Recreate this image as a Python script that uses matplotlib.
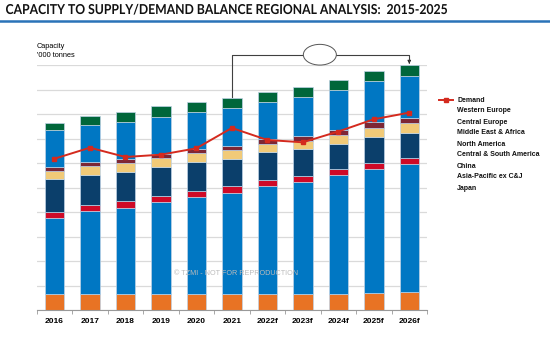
import numpy as np
import matplotlib.pyplot as plt
from matplotlib.patches import Ellipse, PathPatch
from matplotlib.textpath import TextPath
from matplotlib.font_manager import FontProperties
from matplotlib.transforms import Affine2D, IdentityTransform

years = ['2016', '2017', '2018', '2019', '2020', '2021',
         '2022f', '2023f', '2024f', '2025f', '2026f']

# capacity by region, '000 tonnes (stacked bottom -> top)
japan = [640, 640, 640, 640, 640, 640, 640, 640, 640, 680, 735]
asia_pac = [3100, 3400, 3520, 3755, 3970, 4150, 4420, 4570, 4855, 5075, 5210]
china = [270, 255, 275, 270, 245, 275, 255, 245, 245, 245, 245]
cs_america = [1320, 1225, 1195, 1185, 1195, 1115, 1130, 1115, 1035, 1060, 1045]
n_america = [340, 355, 355, 355, 345, 355, 340, 340, 365, 365, 395]
mea = [150, 165, 165, 150, 165, 165, 180, 205, 205, 235, 190]
c_europe = [1510, 1510, 1510, 1510, 1510, 1540, 1510, 1580, 1635, 1675, 1740]
w_europe = [285, 365, 410, 450, 420, 410, 435, 410, 410, 410, 425]

demand = [6175, 6625, 6245, 6340, 6600, 7430, 6940, 6845, 7285, 7785, 8055]

series = [
    ('Japan', japan, '#E87324'),
    ('Asia-Pacific ex C&J', asia_pac, '#0077C3'),
    ('China', china, '#CF0A27'),
    ('Central & South America', cs_america, '#0B3F6B'),
    ('North America', n_america, '#F1CA78'),
    ('Middle East & Africa', mea, '#7D2735'),
    ('Central Europe', c_europe, '#0077C3'),
    ('Western Europe', w_europe, '#00663A'),
]

fig = plt.figure(figsize=(5.5, 3.4), dpi=100)
fig.patch.set_facecolor('white')

# title as a condensed text path: 441px wide, 10px cap height, baseline 14px from top
title = 'CAPACITY TO SUPPLY/DEMAND BALANCE REGIONAL ANALYSIS:  2015-2025'
fp = FontProperties(family='Lato', weight='bold')
tp = TextPath((0, 0), title, size=10, prop=fp)
cap = TextPath((0, 0), 'CAPACITY', size=10, prop=fp).get_extents()
ext = tp.get_extents()
sx = 441 / ext.width
sy = 10 / cap.y1
tr = Affine2D().translate(-ext.x0, 0).scale(sx, sy).translate(6, 340 - 14)
fig.add_artist(PathPatch(tr.transform_path(tp), transform=IdentityTransform(),
                         facecolor='#111111', edgecolor='none'))
fig.add_artist(plt.Line2D([0, 1], [0.938, 0.938], color='#2A73B8', lw=1.8))

ax = fig.add_axes([36.7 / 550, 30 / 340, 390.3 / 550, 245 / 340])
x = np.arange(len(years))
bottom = np.zeros(len(years))
for name, vals, col in series:
    ax.bar(x, vals, 0.55, bottom=bottom, color=col, edgecolor='#BFD3E6',
           linewidth=0.5, zorder=2)
    bottom += np.array(vals)

ax.plot(x, demand, color='#D42A1E', lw=1.4, marker='s', markersize=3.2, zorder=3)

ax.set_xlim(-0.5, len(years) - 0.5)
ax.set_ylim(0, 10000)
ax.set_yticks(np.arange(0, 10001, 1000))
ax.yaxis.grid(True, color='#DADADA', lw=0.9, zorder=0)
ax.tick_params(axis='y', left=False, labelleft=False)
ax.set_xticks(x)
ax.set_xticklabels(years, fontsize=6, fontweight='bold', family='Liberation Sans')
ax.set_xticks(np.arange(-0.5, len(years)), minor=True)
ax.tick_params(axis='x', which='major', length=0, pad=6)
ax.tick_params(axis='x', which='minor', length=3, color='#999999')
for s in ['left', 'right', 'top']:
    ax.spines[s].set_visible(False)
ax.spines['bottom'].set_color('#999999')
ax.set_axisbelow(True)

fig.text(37 / 550, 1 - 51 / 340, "Capacity\n'000 tonnes", fontsize=5.3,
         family='Liberation Sans', va='center', ha='left', linespacing=1.3)

# watermark
ax.text(0.51, 0.147, '\u00a9 TZMI - NOT FOR REPRODUCTION', transform=ax.transAxes,
        fontsize=5.2, color='#BBBBBB', ha='center', va='center',
        family='Liberation Sans', zorder=4)

# bracket from 2021 to 2026f with arrow
tops = bottom
y_br = 10420
ax.plot([5, 5, 10, 10], [tops[5] + 30, y_br, y_br, tops[10] + 180],
        color='#404040', lw=0.8, clip_on=False, zorder=4)
ax.annotate('', xy=(10, tops[10] + 60), xytext=(10, tops[10] + 200),
            arrowprops=dict(arrowstyle='-|>', color='#222222', lw=0.6,
                            mutation_scale=5), annotation_clip=False)
ax.add_patch(Ellipse((7.48, y_br), 0.93, 845, facecolor='white',
                     edgecolor='#555555', lw=0.7, clip_on=False, zorder=5))

# legend drawn as plain text entries
labels = ['Demand', 'Western Europe', 'Central Europe', 'Middle East & Africa',
          'North America', 'Central & South America', 'China',
          'Asia-Pacific ex C&J', 'Japan']
for i, lab in enumerate(labels):
    yy = 1 - (100 + i * 11) / 340
    fig.text(457 / 550, yy, lab, fontsize=5, fontweight='bold',
             family='Liberation Sans', va='center', ha='left', color='#111111')
fig.add_artist(plt.Line2D([439 / 550, 453 / 550], [1 - 100 / 340] * 2,
                          color='#D42A1E', lw=1.4))
fig.add_artist(plt.Line2D([446 / 550], [1 - 100 / 340], color='#D42A1E',
                          marker='s', markersize=3.2, lw=0))

fig.savefig('out.png', dpi=100)
